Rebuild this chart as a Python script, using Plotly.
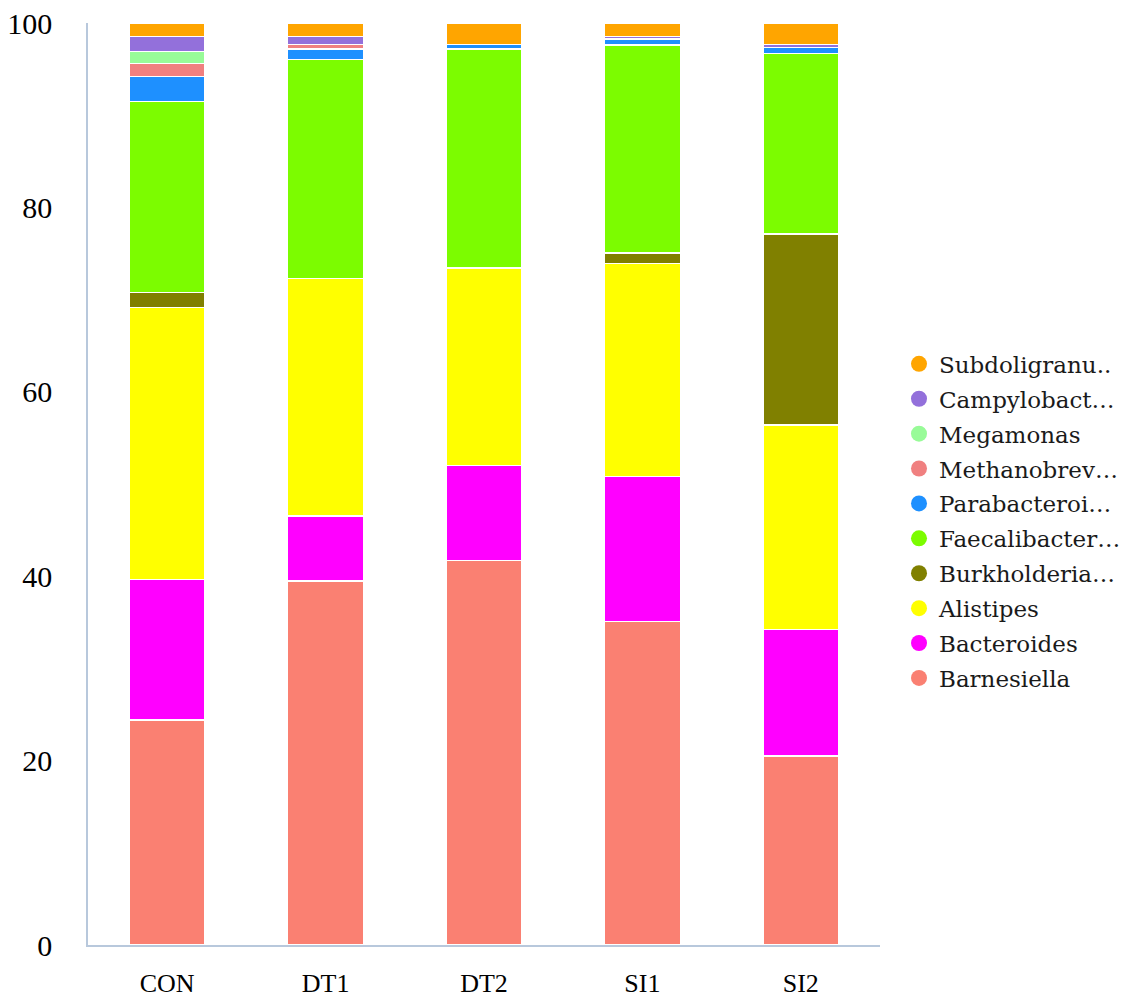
import plotly.graph_objects as go

samples = ["CON", "DT1", "DT2", "SI1", "SI2"]

# stacked from the bottom up
genera = ["Barnesiella", "Bacteroides", "Alistipes", "Burkholderia…",
          "Faecalibacter…", "Parabacteroi…", "Methanobrev…", "Megamonas",
          "Campylobact…", "Subdoligranu.."]

barnesiella = [24.38, 39.47, 41.71, 35.10, 20.48]
bacteroides = [15.27, 7.08, 10.29, 15.71, 13.72]
alistipes = [29.50, 25.75, 21.45, 23.13, 22.21]
burkholderia = [1.60, 0.00, 0.00, 1.09, 20.70]
faecalibacterium = [20.74, 23.75, 23.73, 22.60, 19.59]
parabacteroides = [2.71, 1.13, 0.49, 0.63, 0.66]
methanobrevibacter = [1.41, 0.49, 0.00, 0.00, 0.00]
megamonas = [1.30, 0.00, 0.00, 0.00, 0.00]
campylobacter = [1.63, 0.87, 0.00, 0.27, 0.33]
subdoligranulum = [1.46, 1.46, 2.33, 1.46, 2.31]

values = [barnesiella, bacteroides, alistipes, burkholderia, faecalibacterium,
          parabacteroides, methanobrevibacter, megamonas, campylobacter,
          subdoligranulum]

colors = ["#FA8072", "#FF00FF", "#FFFF00", "#808000", "#7CFC00",
          "#1E90FF", "#F08080", "#98FB98", "#9370DB", "#FFA500"]

fig = go.Figure()

for name, vals, col in zip(genera, values, colors):
    fig.add_trace(go.Bar(
        x=samples, y=vals, name=name,
        marker=dict(color=col, line=dict(color="white", width=1.5)),
        showlegend=False
    ))

# round legend symbols, top of the stack listed first
for name, col in reversed(list(zip(genera, colors))):
    fig.add_trace(go.Scatter(
        x=[None], y=[None], mode="markers", name=name, legendgroup=name,
        marker=dict(symbol="circle", size=16, color=col)
    ))

# page body adds an 8px margin, so the figure is a bit smaller than the window
fig.update_layout(
    width=1132, height=990,
    barmode="stack", bargap=0.52,
    paper_bgcolor="white", plot_bgcolor="white",
    margin=dict(l=80, r=260, t=15, b=53),
    font=dict(family="Liberation Serif", color="black"),
    legend=dict(
        x=1.024, xanchor="left", y=0.46, yanchor="middle",
        traceorder="grouped",
        font=dict(family="DejaVu Serif", size=23, color="#1a1a1a"),
        tracegroupgap=2, itemsizing="trace"
    ),
    xaxis=dict(
        showline=True, linecolor="#B8C8DC", linewidth=1.5,
        ticks="", tickfont=dict(size=26), ticklabelstandoff=14,
        showgrid=False, automargin=False
    ),
    yaxis=dict(
        range=[0, 100], tickvals=[0, 20, 40, 60, 80, 100],
        showline=True, linecolor="#B8C8DC", linewidth=1.5,
        ticks="", tickfont=dict(size=30), ticklabelstandoff=28,
        ticklabeloverflow="allow",
        showgrid=False, zeroline=False, automargin=False
    )
)

fig.write_html("out.html")
